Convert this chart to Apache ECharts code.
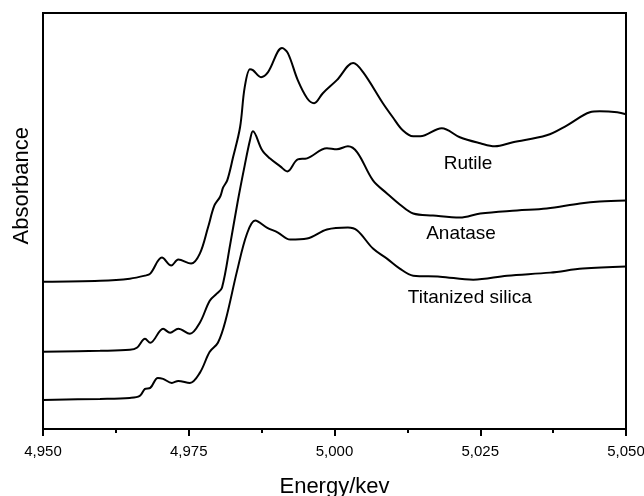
<!DOCTYPE html>
<html>
<head>
<meta charset="utf-8">
<script src="https://cdn.jsdelivr.net/npm/echarts@6/dist/echarts.min.js"></script>
<style>
  html, body { margin: 0; padding: 0; background: #fff; }
  #chart { width: 644px; height: 496px; }
</style>
</head>
<body>
<div id="chart"></div>
<script>
// XANES spectra, Ti K-edge (arbitrary absorbance units)
var rutileE = [4950, 4959.8, 4964.9, 4967.5, 4968.4, 4970.4, 4972.0, 4973.2, 4975.4, 4976.9, 4978.3, 4979.4, 4980.4, 4980.9, 4981.6, 4982.6, 4983.8, 4984.6, 4985.5, 4986.0, 4987.4, 4988.6, 4991.0, 4992.0, 4993.7, 4995.3, 4996.5, 4998.0, 5000.4, 5003.2, 5004.9, 5008.3, 5010.0, 5011.7, 5013.5, 5014.7, 5018.4, 5021.5, 5025.0, 5027.5, 5030.6, 5036.4, 5039.9, 5043.8, 5045.5, 5048.5, 5050];
var rutileY = [1.47, 1.48, 1.50, 1.53, 1.55, 1.71, 1.63, 1.69, 1.65, 1.75, 2.01, 2.23, 2.32, 2.41, 2.48, 2.71, 3.01, 3.41, 3.59, 3.58, 3.51, 3.56, 3.80, 3.75, 3.48, 3.30, 3.25, 3.35, 3.48, 3.65, 3.56, 3.25, 3.11, 2.98, 2.92, 2.92, 3.00, 2.91, 2.85, 2.82, 2.86, 2.93, 3.03, 3.16, 3.17, 3.16, 3.14];

var anataseE = [4950, 4959.8, 4964.9, 4966.1, 4967.5, 4968.4, 4970.6, 4971.8, 4973.2, 4975.2, 4976.9, 4978.6, 4979.8, 4980.7, 4982.1, 4983.4, 4984.6, 4985.5, 4986.0, 4987.6, 4988.9, 4990.7, 4991.9, 4993.7, 4995.3, 4998.7, 5000.4, 5002.3, 5003.9, 5006.6, 5009.0, 5011.2, 5013.5, 5016.9, 5021.5, 5025.0, 5031.3, 5036.4, 5042.1, 5045.5, 5050];
var anataseY = [0.77, 0.78, 0.79, 0.81, 0.90, 0.86, 1.00, 0.96, 1.00, 0.95, 1.06, 1.28, 1.35, 1.41, 1.84, 2.27, 2.63, 2.88, 2.97, 2.78, 2.70, 2.62, 2.57, 2.69, 2.70, 2.80, 2.79, 2.82, 2.76, 2.48, 2.35, 2.24, 2.15, 2.13, 2.11, 2.15, 2.18, 2.20, 2.25, 2.27, 2.28];

var silicaE = [4950, 4959.8, 4964.9, 4966.6, 4967.5, 4968.4, 4969.7, 4970.6, 4972.1, 4973.2, 4975.2, 4976.9, 4978.6, 4980.0, 4981.3, 4983.3, 4985.0, 4986.4, 4988.4, 4990.3, 4992.4, 4995.3, 4998.7, 5002.3, 5003.9, 5006.6, 5009.0, 5011.2, 5013.5, 5018.1, 5023.8, 5029.6, 5037.0, 5042.6, 5050];
var silicaY = [0.29, 0.30, 0.31, 0.33, 0.40, 0.41, 0.51, 0.50, 0.46, 0.48, 0.46, 0.56, 0.77, 0.86, 1.08, 1.58, 1.95, 2.08, 2.01, 1.96, 1.89, 1.90, 1.99, 2.01, 1.98, 1.80, 1.70, 1.60, 1.53, 1.52, 1.49, 1.53, 1.56, 1.60, 1.62];

var curveNames = ['Rutile', 'Anatase', 'Titanized silica'];
var labelE = [5022.9, 5021.7, 5023.2];
var labelY = [2.65, 1.95, 1.31];

function pairs(xs, ys) {
    var out = [];
    for (var i = 0; i < xs.length; i++) {
        out.push([xs[i], ys[i]]);
    }
    return out;
}

var curveData = [pairs(rutileE, rutileY), pairs(anataseE, anataseY), pairs(silicaE, silicaY)];
var FONT = 'Liberation Sans, Arial, sans-serif';

var series = [];
for (var k = 0; k < curveNames.length; k++) {
    series.push({
        name: curveNames[k],
        type: 'line',
        data: curveData[k],
        smooth: 0.35,
        showSymbol: false,
        lineStyle: { color: '#000', width: 2 },
        markPoint: {
            symbol: 'circle',
            symbolSize: 0,
            silent: true,
            data: [{
                coord: [labelE[k], labelY[k]],
                label: {
                    show: true,
                    position: 'inside',
                    formatter: curveNames[k],
                    color: '#000',
                    fontSize: 19,
                    fontFamily: FONT
                }
            }]
        }
    });
}

var chart = echarts.init(document.getElementById('chart'));
var option = {
    backgroundColor: '#fff',
    animation: false,
    grid: {
        show: true,
        left: 43,
        right: 18,
        top: 13,
        bottom: 67,
        outerBoundsMode: 'none',
        borderColor: '#000',
        borderWidth: 2,
        backgroundColor: 'transparent'
    },
    xAxis: {
        type: 'value',
        min: 4950,
        max: 5050,
        interval: 25,
        name: 'Energy/kev',
        nameLocation: 'middle',
        nameGap: 47,
        nameTextStyle: {
            color: '#000',
            fontSize: 22,
            fontFamily: FONT
        },
        axisLine: { lineStyle: { color: '#000', width: 2 } },
        axisTick: { inside: false, length: 7, lineStyle: { color: '#000', width: 2 } },
        minorTick: { show: true, splitNumber: 2, length: 4, lineStyle: { color: '#000', width: 2 } },
        splitLine: { show: false },
        axisLabel: {
            color: '#000',
            fontSize: 15,
            margin: 15,
            fontFamily: FONT,
            formatter: function (v) {
                return String(v).replace(/(\d)(\d{3})$/, '$1,$2');
            }
        }
    },
    yAxis: {
        type: 'value',
        min: 0,
        max: 4.15,
        axisLine: { show: true, lineStyle: { color: '#000', width: 2 } },
        axisTick: { show: false },
        axisLabel: { show: false },
        splitLine: { show: false }
    },
    graphic: [{
        type: 'text',
        left: 11,
        top: 127,
        rotation: Math.PI / 2,
        style: {
            text: 'Absorbance',
            fill: '#000',
            font: '22px Liberation Sans, Arial, sans-serif'
        }
    }],
    series: series
};
chart.setOption(option);
</script>
</body>
</html>
